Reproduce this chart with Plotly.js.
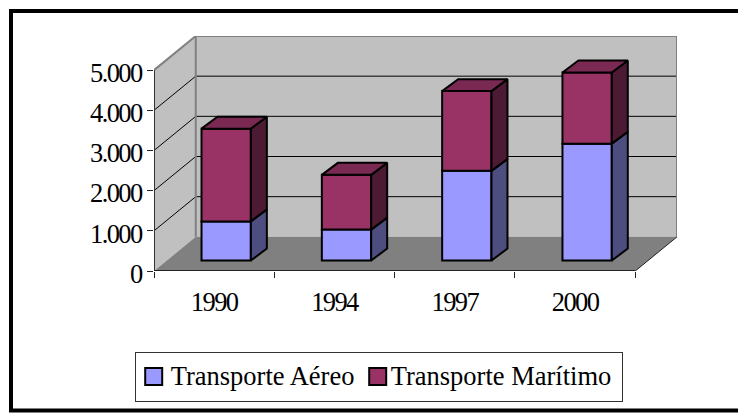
<!DOCTYPE html>
<html><head><meta charset="utf-8">
<script src="https://cdn.plot.ly/plotly-3.0.1.min.js"></script>
<style>html,body{margin:0;padding:0;background:#fff;overflow:hidden}
.xtick text,.ytick text{letter-spacing:-1.6px}
.ytick text{translate:0 2.5px}</style>
</head><body><div id="chart" style="width:738px;height:413px"></div>
<script>
const years = ['1990','1994','1997','2000'];
const aereo = [975, 770, 2233, 2910];
const maritimo = [2308, 1364, 1985, 1772];
const yTicks = [0,1000,2000,3000,4000,5000];
const yLabels = ['0','1.000','2.000','3.000','4.000','5.000'];

const DX = 0.347, DY = 850;          // depth of the 3-D box, in axis units
const OX = 0.10, OY = 260;           // bar offset into the box
const BW = 0.41, BDX = 0.133, BDY = 298; // bar width and bar depth
const centres = years.map((_, i) => i + 0.5 + OX);
const tops = aereo.map((v, i) => v + maritimo[i]);

function sides(lo, hi) {
  const xs = [], ys = [];
  centres.forEach((c, i) => {
    const r = c + BW / 2, b = lo[i] + OY, t = hi[i] + OY;
    xs.push(r, r + BDX, r + BDX, r, r, null);
    ys.push(b, b + BDY, t + BDY, t, b, null);
  });
  return {xs, ys};
}
function topFaces() {
  const xs = [], ys = [];
  centres.forEach((c, i) => {
    const l = c - BW / 2, r = c + BW / 2, t = tops[i] + OY;
    xs.push(l, r, r + BDX, l + BDX, l, null);
    ys.push(t, t, t + BDY, t + BDY, t, null);
  });
  return {xs, ys};
}
const edge = {color: '#000', width: 2};
const sideA = sides(aereo.map(() => 0), aereo);
const sideM = sides(aereo, tops);
const topM = topFaces();
const poly = (d, color) => ({type: 'scatter', mode: 'lines', x: d.xs, y: d.ys, fill: 'toself',
  fillcolor: color, line: edge, showlegend: false, hoverinfo: 'skip'});
const traces = [
  {type: 'bar', name: 'Transporte Aéreo', x: centres, y: aereo, base: aereo.map(() => OY), width: BW,
   marker: {color: '#9999FF', line: edge}},
  {type: 'bar', name: 'Transporte Marítimo', x: centres, y: maritimo, base: aereo.map(v => v + OY), width: BW,
   marker: {color: '#993366', line: edge}},
  poly(sideA, '#4D4D80'), poly(sideM, '#4D1A33'), poly(topM, '#7A2952')
];

const X = 4, Ymax = 5000;
const path = pts => 'M' + pts.map(p => p.join(',')).join('L') + 'Z';
const line = (x0, y0, x1, y1, color, width) => ({type: 'line', layer: 'below', xref: 'x', yref: 'y',
  x0, y0, x1, y1, line: {color, width}});
const shapes = [
  {type: 'path', layer: 'below', xref: 'x', yref: 'y', line: {width: 0}, fillcolor: '#C0C0C0',
   path: path([[0,0],[DX,DY],[DX,Ymax+DY],[0,Ymax]])},
  {type: 'path', layer: 'below', xref: 'x', yref: 'y', line: {width: 0}, fillcolor: '#C0C0C0',
   path: path([[DX,DY],[X+DX,DY],[X+DX,Ymax+DY],[DX,Ymax+DY]])},
  {type: 'path', layer: 'below', xref: 'x', yref: 'y', line: {width: 0}, fillcolor: '#808080',
   path: path([[0,0],[X,0],[X+DX,DY],[DX,DY]])}
];
yTicks.slice(1, 5).forEach(v => {
  shapes.push(line(DX, v + DY, X + DX, v + DY, '#000', 1));
  shapes.push(line(0, v, DX, v + DY, '#000', 1));
});
shapes.push(line(0, Ymax, DX, Ymax + DY, '#808080', 2));
shapes.push(line(DX, Ymax + DY, X + DX, Ymax + DY, '#808080', 2));
shapes.push(line(DX, DY, DX, Ymax + DY, '#808080', 2));
shapes.push(line(X + DX, DY, X + DX, Ymax + DY, '#808080', 2));
shapes.push(line(X, 0, X + DX, DY, '#222', 1));
shapes.push(line(0, 0, 0, Ymax, '#333', 2));
shapes.push(line(0, 0, X, 0, '#222', 2));

const L = 154, T = 36, W = 523, H = 236;
const px = v => (v - L) / W, py = v => (T + H - v) / H;
const frame = (a, b, c, d) => ({type: 'line', xref: 'paper', yref: 'paper', layer: 'above',
  line: {color: '#000', width: 4}, x0: px(a), y0: py(b), x1: px(c), y1: py(d)});
shapes.push(frame(9, 11, 738, 11), frame(11, 9, 11, 413), frame(9, 412, 738, 412));

const font = {family: '"Liberation Serif", serif', size: 26.5, color: '#000'};
const layout = {
  width: 738, height: 413, margin: {l: L, r: 738 - L - W, t: T, b: 413 - T - H},
  paper_bgcolor: '#fff', plot_bgcolor: 'rgba(0,0,0,0)', font, barmode: 'overlay', showlegend: true,
  xaxis: {range: [0, X + DX], tickvals: years.map((_, i) => i + 0.5), ticktext: years, ticks: '',
          showgrid: false, zeroline: false, showline: false, tickfont: font, ticklabelstandoff: 12,
          minor: {tickvals: [0,1,2,3,4], ticks: 'outside', ticklen: 6, tickwidth: 1, tickcolor: '#222', showgrid: false}},
  yaxis: {range: [0, Ymax + DY], tickvals: yTicks, ticktext: yLabels, ticks: 'outside', ticklen: 6, tickwidth: 1,
          tickcolor: '#222', showgrid: false, zeroline: false, showline: false, tickfont: font},
  legend: {orientation: 'h', x: px(134.7), y: py(351.7), xanchor: 'left', yanchor: 'top', bgcolor: '#fff',
           bordercolor: '#333', borderwidth: 1, font, itemclick: false, itemdoubleclick: false},
  shapes
};
Plotly.newPlot('chart', traces, layout, {displayModeBar: false, staticPlot: true}).then(() => {
  // Tighten the legend to the reference's proportions: bigger swatches, narrower gaps.
  const items = document.querySelectorAll('.legend .traces');
  items.forEach((g, i) => {
    g.querySelectorAll('.legendpoints path').forEach(p => {
      p.setAttribute('d', 'M8.5,8.5H-8.5V-8.5H8.5Z');
      p.setAttribute('transform', 'translate(18,0)');
    });
    const t = g.querySelector('text.legendtext');
    if (t) {
      t.setAttribute('x', i ? 31 : 35);
      t.setAttribute('y', parseFloat(t.getAttribute('y') || 0) - 2);
    }
  });
  if (items[1]) {
    const m = /translate\(\s*([\d.\-]+)[ ,]+([\d.\-]+)/.exec(items[1].getAttribute('transform'));
    if (m) items[1].setAttribute('transform', 'translate(' + 225 + ',' + m[2] + ')');
  }
  const bg = document.querySelector('.legend rect.bg');
  if (bg) bg.setAttribute('width', 487);
});
</script></body></html>
